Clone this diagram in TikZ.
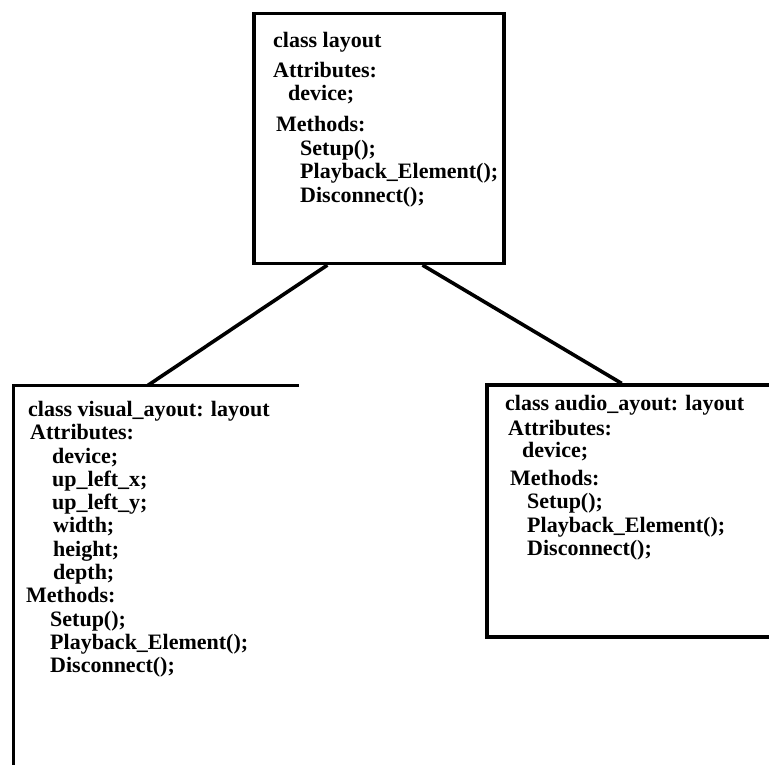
\documentclass[tikz,border=0pt]{standalone}
\usepackage{fontspec}
\setmainfont{Liberation Serif}
\usetikzlibrary{calc}

\tikzset{
  classbox/.style={draw, line width=3.2pt, inner sep=0pt},
  openbox/.style={inner sep=0pt},
  edge/.style={line width=3.2pt},
  link/.style={line width=3.6pt},
  txt/.style={anchor=base west, inner sep=0pt,
    font=\fontsize{22}{22}\selectfont\bfseries},
}

\begin{document}
\begin{tikzpicture}[x=1pt, y=-1pt]
  \useasboundingbox (0,0) rectangle (769,764);
  \clip (0,0) rectangle (769,764);

  % base class
  \node[classbox, minimum width=250pt, minimum height=250pt] (layout) at (379,138.5) {};
  \node[txt] (l1) at (273,47)  {class layout};
  \node[txt] (l2) at (273,77)  {Attributes:};
  \node[txt] (l3) at (288,100) {device;};
  \node[txt] (l4) at (276,131) {Methods:};
  \node[txt] (l5) at (300,155) {Setup();};
  \node[txt] (l6) at (300,178) {Playback\_Element();};
  \node[txt] (l7) at (300,202) {Disconnect();};

  % visual subclass (runs off the bottom of the page)
  \node[openbox, minimum width=285.5pt, minimum height=414.5pt] (visual) at (156.25,592.75) {};
  \draw[edge] (visual.north east) -- (visual.north west) -- (visual.south west);
  \node[txt] (v1)  at (28,416)  {class visual\_ayout: layout};
  \node[txt] (v2)  at (30,439)  {Attributes:};
  \node[txt] (v3)  at (52,463)  {device;};
  \node[txt] (v4)  at (52,486)  {up\_left\_x;};
  \node[txt] (v5)  at (52,509)  {up\_left\_y;};
  \node[txt] (v6)  at (53,532)  {width;};
  \node[txt] (v7)  at (53,556)  {height;};
  \node[txt] (v8)  at (53,579)  {depth;};
  \node[txt] (v9)  at (26,602)  {Methods:};
  \node[txt] (v10) at (50,626)  {Setup();};
  \node[txt] (v11) at (50,649)  {Playback\_Element();};
  \node[txt] (v12) at (50,672)  {Disconnect();};

  % audio subclass (runs off the right of the page)
  \node[classbox, minimum width=313pt, minimum height=252pt] (audio) at (643.5,511) {};
  \node[txt] (a1) at (505,410) {class audio\_ayout: layout};
  \node[txt] (a2) at (508,435) {Attributes:};
  \node[txt] (a3) at (522,457) {device;};
  \node[txt] (a4) at (510,485) {Methods:};
  \node[txt] (a5) at (527,508) {Setup();};
  \node[txt] (a6) at (527,532) {Playback\_Element();};
  \node[txt] (a7) at (527,555) {Disconnect();};

  % inheritance links
  \draw[link] ($(layout.south west)!0.296!(layout.south east)$)
           -- ($(visual.north west)!0.471!(visual.north east)$);
  \draw[link] ($(layout.south west)!0.672!(layout.south east)$)
           -- ($(audio.north west)!0.431!(audio.north east)$);
\end{tikzpicture}
\end{document}
